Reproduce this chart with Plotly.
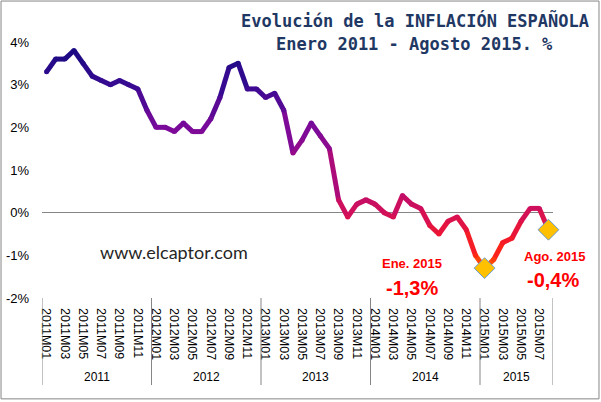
import plotly.graph_objects as go

# IPC, tasa de variacion anual (%), enero 2011 - agosto 2015
years = [2011, 2012, 2013, 2014, 2015]
infl_2011 = [3.3, 3.6, 3.6, 3.8, 3.5, 3.2, 3.1, 3.0, 3.1, 3.0, 2.9, 2.4]
infl_2012 = [2.0, 2.0, 1.9, 2.1, 1.9, 1.9, 2.2, 2.7, 3.4, 3.5, 2.9, 2.9]
infl_2013 = [2.7, 2.8, 2.4, 1.4, 1.7, 2.1, 1.8, 1.5, 0.3, -0.1, 0.2, 0.3]
infl_2014 = [0.2, 0.0, -0.1, 0.4, 0.2, 0.1, -0.3, -0.5, -0.2, -0.1, -0.4, -1.0]
infl_2015 = [-1.3, -1.1, -0.7, -0.6, -0.2, 0.1, 0.1, -0.4]

series = [infl_2011, infl_2012, infl_2013, infl_2014, infl_2015]
values = [v for s in series for v in s]
periods = [f"{y}M{m + 1:02d}" for y, s in zip(years, series) for m in range(len(s))]
xs = list(range(len(values)))

y_ticks = [-2, -1, 0, 1, 2, 3, 4]
y_labels = ["-2%", "-1%", "0%", "1%", "2%", "3%", "4%"]

# Punkte, die hervorgehoben werden (Ene. 2015 und Ago. 2015)
highlight = [periods.index("2015M01"), periods.index("2015M08")]

# Farbverlauf nach Wert: oben indigo, unten orange
stops = [(-1.3, (255, 96, 0)), (-1.0, (255, 40, 20)), (-0.5, (238, 22, 50)),
         (0.0, (210, 16, 90)), (1.0, (168, 10, 125)), (2.0, (122, 10, 154)),
         (3.0, (56, 10, 146)), (3.8, (26, 10, 130))]


def color_for(v):
    if v <= stops[0][0]:
        return f"rgb{stops[0][1]}"
    for (v0, c0), (v1, c1) in zip(stops, stops[1:]):
        if v <= v1:
            t = (v - v0) / (v1 - v0)
            c = tuple(int(round(a + (b - a) * t)) for a, b in zip(c0, c1))
            return f"rgb{c}"
    return f"rgb{stops[-1][1]}"


fig = go.Figure()

# Linie segmentweise, damit der Farbverlauf sichtbar wird
for i in range(len(values) - 1):
    mid = (values[i] + values[i + 1]) / 2
    fig.add_trace(go.Scatter(x=xs[i:i + 2], y=values[i:i + 2], mode="lines",
                             line=dict(color=color_for(mid), width=5),
                             cliponaxis=False, hoverinfo="skip", showlegend=False))

# kleine Punkte an den Knicken schliessen die Luecken zwischen Segmenten
fig.add_trace(go.Scatter(x=xs, y=values, mode="markers",
                         marker=dict(size=5, color=[color_for(v) for v in values]),
                         text=periods, hovertemplate="%{text}: %{y}%<extra></extra>",
                         cliponaxis=False, showlegend=False))

fig.add_trace(go.Scatter(x=[xs[i] for i in highlight], y=[values[i] for i in highlight],
                         mode="markers",
                         marker=dict(symbol="diamond", size=16, color="#FFC000",
                                     line=dict(color="#6A9BD1", width=1)),
                         cliponaxis=False, hoverinfo="skip", showlegend=False))

red = "#FF0000"
fig.add_annotation(x=40.1, y=-1.18, text="<b>Ene. 2015</b>", showarrow=False,
                   font=dict(family="Liberation Sans", size=13, color=red))
fig.add_annotation(x=40.1, y=-1.77, text="<b>-1,3%</b>", showarrow=False,
                   font=dict(family="Liberation Sans", size=20, color=red))
fig.add_annotation(xref="paper", x=1.002, y=-1.02, text="<b>Ago. 2015</b>",
                   showarrow=False, xanchor="center",
                   font=dict(family="Liberation Sans", size=13, color=red))
fig.add_annotation(xref="paper", x=1.0, y=-1.58, text="<b>-0,4%</b>",
                   showarrow=False, xanchor="center",
                   font=dict(family="Liberation Sans", size=20, color=red))

fig.add_annotation(x=14.0, y=-0.92, text="www.elcaptor.com", showarrow=False,
                   font=dict(family="Lato", size=18, color="#262626"))

title_font = dict(family="DejaVu Sans Mono", size=17, color="#1F3864")
fig.add_annotation(xref="paper", yref="paper", x=0.729, y=1.086,
                   xanchor="center", yanchor="middle",
                   text="<b>Evolución de la INFLACIÓN ESPAÑOLA</b>", showarrow=False,
                   font=title_font)
fig.add_annotation(xref="paper", yref="paper", x=0.729, y=0.992,
                   xanchor="center", yanchor="middle",
                   text="<b>Enero 2011 - Agosto 2015. %</b>", showarrow=False,
                   font=title_font)

# Jahresgruppen unter der Achse
bounds = [-0.5]
for s in series:
    bounds.append(bounds[-1] + len(s))
for b in bounds:
    fig.add_shape(type="line", xref="x", yref="paper", x0=b, x1=b, y0=0, y1=-0.34,
                  line=dict(color="#868686", width=1))
for y, b0, b1 in zip(years, bounds, bounds[1:]):
    fig.add_annotation(x=(b0 + b1) / 2, xref="x", yref="paper", y=-0.31,
                       yanchor="middle", text=str(y), showarrow=False,
                       font=dict(family="Liberation Sans", size=12, color="black"))

# Rahmen um das ganze Diagramm
fig.add_shape(type="rect", xref="paper", yref="paper", x0=-0.0802, x1=1.090,
              y0=-0.394, y1=1.160, line=dict(color="#868686", width=1))

fig.update_layout(width=601, height=402,
                  margin=dict(l=42, r=48, t=42, b=104),
                  plot_bgcolor="white", paper_bgcolor="white",
                  showlegend=False)
fig.update_xaxes(range=[-0.5, len(values) - 0.5], showgrid=False, zeroline=False,
                 showline=False, ticks="", automargin=False,
                 tickvals=xs[::2], ticktext=periods[::2], tickangle=90,
                 ticklabelstandoff=9,
                 tickfont=dict(family="Liberation Sans", size=12.5, color="black"))
fig.update_yaxes(range=[-2, 4], showgrid=False, zeroline=True,
                 zerolinecolor="#868686", zerolinewidth=1, showline=False,
                 ticks="", automargin=False, tickvals=y_ticks, ticktext=y_labels,
                 ticklabelstandoff=12,
                 tickfont=dict(family="Liberation Sans", size=13, color="black"))

fig.write_html("out.html", config={"displayModeBar": False},
               post_script="document.body.style.margin='0';")
